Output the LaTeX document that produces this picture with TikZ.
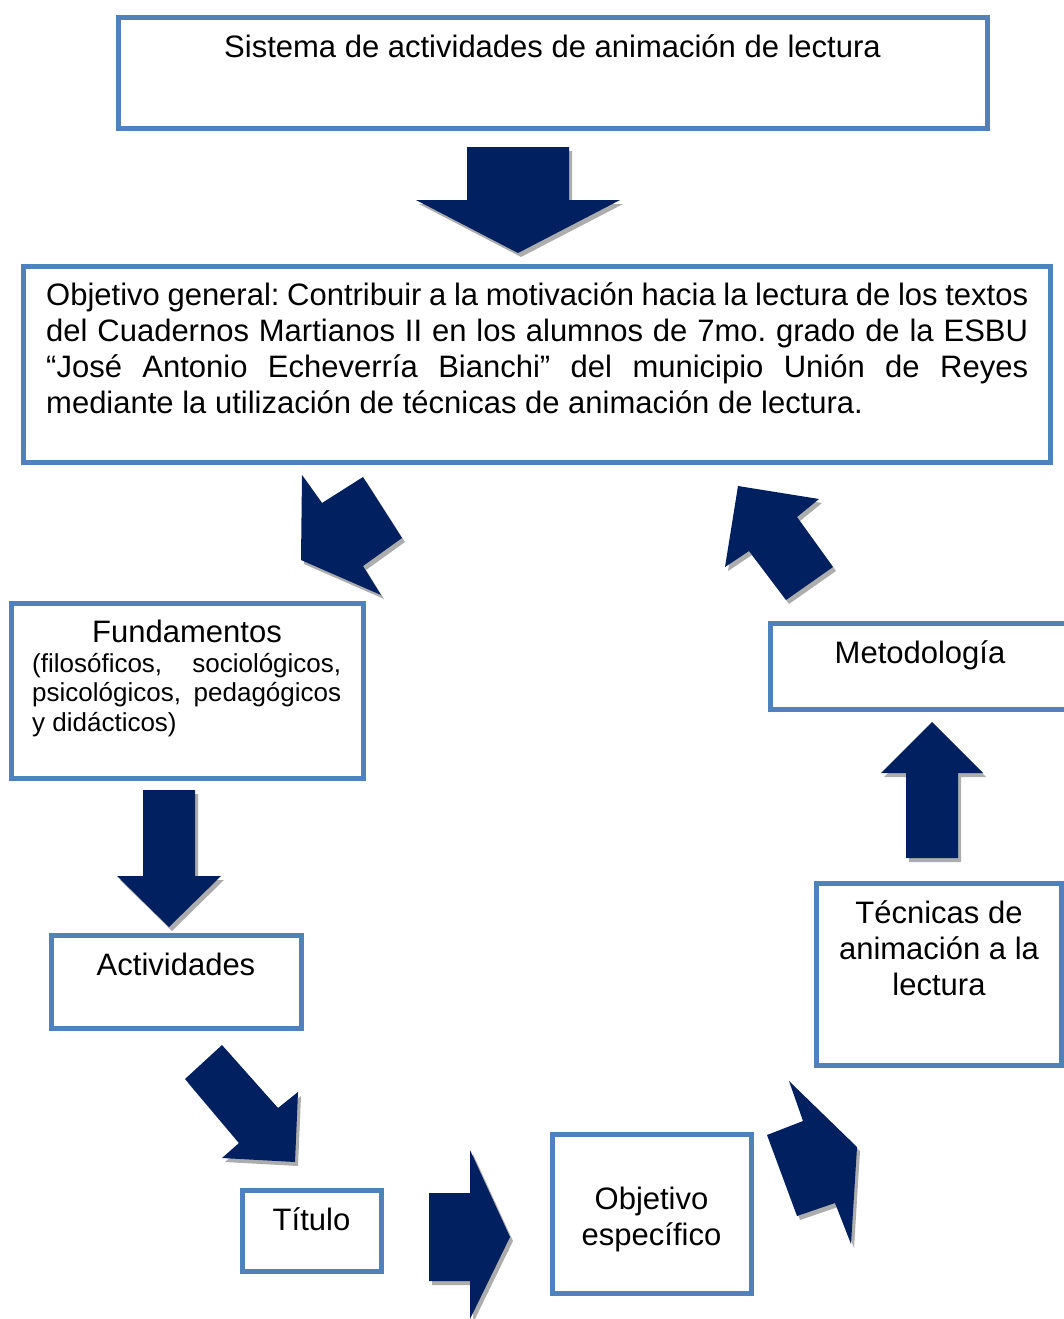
\documentclass[tikz,border=0pt]{standalone}
\usepackage{fontspec}
\setmainfont{Liberation Sans}
\frenchspacing
\definecolor{boxblue}{RGB}{79,129,189}
\definecolor{arrownavy}{RGB}{0,32,96}
\tikzset{
  box/.style={draw=boxblue, line width=5pt, fill=white, inner sep=0pt},
  lbl/.style={anchor=base, inner sep=0pt, font=\fontsize{31}{36}\selectfont\frenchspacing},
  lblw/.style={anchor=base west, inner sep=0pt, font=\fontsize{31}{36}\selectfont\frenchspacing},
  smallw/.style={anchor=base west, inner sep=0pt, font=\fontsize{26}{30}\selectfont\frenchspacing},
  blockarrow/.style={fill=arrownavy},
  blockshadow/.style={fill=black!32, shift={(3,4)}}
}
\newcommand\blockarr[1]{\fill[blockshadow] #1 -- cycle; \fill[blockarrow] #1 -- cycle;}
\begin{document}
\begin{tikzpicture}[x=1pt,y=-1pt]
\useasboundingbox (0,0) rectangle (1064,1319);
\clip (0,0) rectangle (1064,1319);
\fill[white] (0,0) rectangle (1064,1319);

% boxes
\node[box, minimum width=869pt, minimum height=111pt] (sistema) at (552.5,73.5) {};
\node[box, minimum width=1027pt, minimum height=196pt] (objgen) at (536.5,364) {};
\node[box, minimum width=352pt, minimum height=175pt] (fund) at (187,690.5) {};
\node[box, minimum width=305pt, minimum height=86pt] (metod) at (922.5,666) {};
\node[box, minimum width=250pt, minimum height=93pt] (activ) at (176,981.5) {};
\node[box, minimum width=245pt, minimum height=182pt] (tecn) at (938.5,974) {};
\node[box, minimum width=139pt, minimum height=81pt] (titulo) at (311.5,1230.5) {};
\node[box, minimum width=199pt, minimum height=159pt] (objesp) at (651.5,1213.5) {};

% texts
\node[lbl] (tsis) at (552.5,58) {Sistema de actividades de animación de lectura};

\node[lblw] (og1) at (46,305) {\makebox[982pt][s]{Objetivo general: Contribuir a la motivación hacia la lectura de los textos}};
\node[lblw] (og2) at (46,341) {\makebox[982pt][s]{del Cuadernos Martianos II en los alumnos de 7mo. grado de la ESBU}};
\node[lblw] (og3) at (46,377) {\makebox[982pt][s]{“José Antonio Echeverría Bianchi” del municipio Unión de Reyes}};
\node[lblw] (og4) at (46,413) {mediante la utilización de técnicas de animación de lectura.};

\node[lbl] (tfund) at (187,642) {Fundamentos};
\node[smallw] (f1) at (32,672) {\makebox[309pt][s]{(filosóficos, sociológicos,}};
\node[smallw] (f2) at (32,701.5) {\makebox[309pt][s]{psicológicos, pedagógicos}};
\node[smallw] (f3) at (32,731) {y didácticos)};

\node[lbl] (tmet) at (920,663) {Metodología};

\node[lbl] (tec1) at (939,923) {Técnicas de};
\node[lbl] (tec2) at (939,959) {animación a la};
\node[lbl] (tec3) at (939,995) {lectura};

\node[lbl] (tact) at (176,975) {Actividades};
\node[lbl] (ttit) at (311.5,1230) {Título};
\node[lbl] (toe1) at (651.5,1209) {Objetivo};
\node[lbl] (toe2) at (651.5,1245) {específico};

% block arrows
\blockarr{(467,147) -- (569,147) -- (569,200) -- (620,200) -- (518,253) -- (416,200) -- (467,200)}
\blockarr{(302,475) -- (322,503) -- (363,477) -- (402,538) -- (363,566) -- (381,595) -- (301,560)}
\blockarr{(738,486) -- (819,499) -- (797,517) -- (833,567) -- (786,600) -- (749,551) -- (725,567)}
\blockarr{(143,790) -- (195,790) -- (195,876) -- (221,876) -- (169,927) -- (117,876) -- (143,876)}
\blockarr{(906,858) -- (958,858) -- (958,773) -- (983,773) -- (932,722) -- (881,773) -- (906,773)}
\blockarr{(222,1045) -- (278,1108) -- (298,1092) -- (295,1162) -- (222,1158) -- (239,1143) -- (185,1079)}
\blockarr{(429,1193) -- (470,1193) -- (470,1150) -- (510,1237) -- (470,1319) -- (470,1281) -- (429,1281)}
\blockarr{(789,1081) -- (857,1147) -- (851,1244) -- (835,1203) -- (797,1216) -- (767,1135) -- (803,1121)}
\end{tikzpicture}
\end{document}
